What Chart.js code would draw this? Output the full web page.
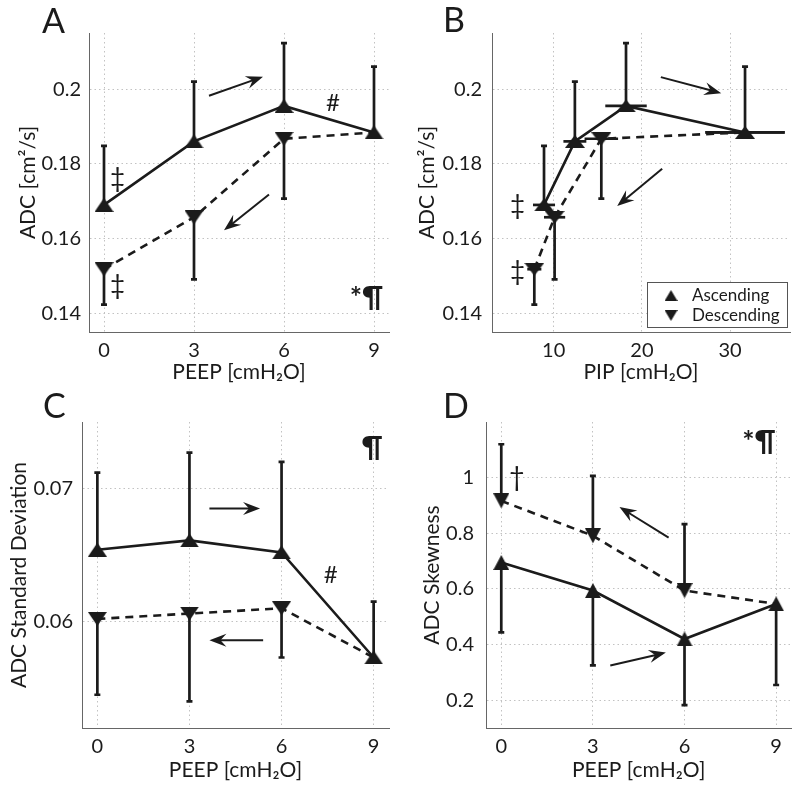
<!DOCTYPE html>
<html>
<head>
<style type="text/css">
  body { margin: 0; background: #fff; }
  #wrap { position: relative; width: 800px; height: 794px; overflow: hidden; }
  .panel { position: absolute; }
</style>
</head>
<body>
<div id="wrap">
  <div class="panel" style="left:0;top:0"><canvas id="chartA" width="400" height="390"></canvas></div>
  <div class="panel" style="left:400px;top:0"><canvas id="chartB" width="400" height="390"></canvas></div>
  <div class="panel" style="left:0;top:390px"><canvas id="chartC" width="400" height="404"></canvas></div>
  <div class="panel" style="left:400px;top:390px"><canvas id="chartD" width="400" height="404"></canvas></div>
</div>
<script src="https://cdn.jsdelivr.net/npm/chart.js@4/dist/chart.umd.min.js"></script>
<script>
var ink = '#1b1b1b';
var FONT = 'Lato, "Open Sans", sans-serif';

// ---- data ----
var peep = [0, 3, 6, 9];
var peepTicks = [0, 3, 6, 9];
var peepLabels = ['0', '3', '6', '9'];

// A: mean ADC
var adcAsc = [0.169, 0.186, 0.1955, 0.1884];
var adcAscSd = [0.0158, 0.016, 0.0168, 0.0176];
var adcDesc = [0.1518, 0.1657, 0.1867, 0.1884];
var adcDescSd = [0.0095, 0.0166, 0.016, null];
var adcTicks = [0.14, 0.16, 0.18, 0.2];
var adcLabels = ['0.14', '0.16', '0.18', '0.2'];

// B: PIP at each step
var pipAsc = [8.9, 12.4, 18.2, 31.7];
var pipAscSd = [1.25, 1.3, 2.35, 4.5];
var pipDesc = [7.8, 10.1, 15.4, 31.7];
var pipDescSd = [0.8, 1.2, 1.9, 4.5];
var pipTicks = [10, 20, 30];
var pipLabels = ['10', '20', '30'];

// C: ADC standard deviation
var sdAsc = [0.0654, 0.0661, 0.0652, 0.0573];
var sdAscSd = [0.0058, 0.0066, 0.0068, 0.0042];
var sdDesc = [0.0602, 0.0606, 0.0610, 0.0573];
var sdDescSd = [0.0057, 0.0066, 0.0037, null];
var sdTicks = [0.06, 0.07];
var sdLabels = ['0.06', '0.07'];

// D: ADC skewness
var skAsc = [0.695, 0.594, 0.42, 0.546];
var skAscSd = [0.251, 0.269, 0.238, 0.2915];
var skDesc = [0.9165, 0.791, 0.594, 0.546];
var skDescSd = [0.2035, 0.215, 0.239, null];
var skTicks = [0.2, 0.4, 0.6, 0.8, 1];
var skLabels = ['0.2', '0.4', '0.6', '0.8', '1'];

function tri(w, h, up) {
  var c = document.createElement('canvas');
  c.width = w; c.height = h;
  var g = c.getContext('2d');
  g.fillStyle = ink;
  g.beginPath();
  if (up) { g.moveTo(w / 2, 0); g.lineTo(w, h); g.lineTo(0, h); }
  else { g.moveTo(0, 0); g.lineTo(w, 0); g.lineTo(w / 2, h); }
  g.closePath();
  g.fill();
  return c;
}

function drawArrow(ctx, x1, y1, x2, y2) {
  var a = Math.atan2(y2 - y1, x2 - x1), L = 17, W = 6.5;
  var ux = Math.cos(a), uy = Math.sin(a);
  ctx.beginPath();
  ctx.moveTo(x1, y1);
  ctx.lineTo(x2 - ux * L * 0.6, y2 - uy * L * 0.6);
  ctx.stroke();
  ctx.beginPath();
  ctx.moveTo(x2, y2);
  ctx.lineTo(x2 - ux * L - uy * W, y2 - uy * L + ux * W);
  ctx.lineTo(x2 - ux * L * 0.65, y2 - uy * L * 0.65);
  ctx.lineTo(x2 - ux * L + uy * W, y2 - uy * L - ux * W);
  ctx.closePath();
  ctx.fill();
}

var decor = {
  id: 'decor',
  beforeDatasetsDraw: function(chart) {
    var o = chart.options.plugins.decor, ctx = chart.ctx;
    var xs = chart.scales.x, ys = chart.scales.y;
    ctx.save();
    ctx.strokeStyle = ink;
    ctx.lineWidth = 2.7;
    o.bars.forEach(function(b) {
      b.x.forEach(function(xv, i) {
        var px = xs.getPixelForValue(xv), py = ys.getPixelForValue(b.y[i]);
        if (b.sd[i] != null) {
          var pe = ys.getPixelForValue(b.y[i] + b.dir * b.sd[i]);
          ctx.beginPath();
          ctx.moveTo(px, py); ctx.lineTo(px, pe);
          ctx.moveTo(px - 3, pe); ctx.lineTo(px + 3, pe);
          ctx.stroke();
        }
        if (b.xsd && b.xsd[i] != null) {
          ctx.beginPath();
          ctx.moveTo(xs.getPixelForValue(xv - b.xsd[i]), py);
          ctx.lineTo(xs.getPixelForValue(xv + b.xsd[i]), py);
          ctx.stroke();
        }
      });
    });
    ctx.restore();
  },
  afterDatasetsDraw: function(chart) {
    var o = chart.options.plugins.decor, ctx = chart.ctx;
    var xs = chart.scales.x, ys = chart.scales.y;
    ctx.save();
    ctx.fillStyle = ink;
    ctx.strokeStyle = ink;
    ctx.lineWidth = 2;
    o.arrows.forEach(function(a) {
      drawArrow(ctx, xs.getPixelForValue(a[0]), ys.getPixelForValue(a[1]),
                xs.getPixelForValue(a[2]), ys.getPixelForValue(a[3]));
    });
    ctx.textAlign = 'center';
    ctx.textBaseline = 'middle';
    o.notes.forEach(function(n) {
      ctx.font = (n.bold ? 'bold ' : '') + n.size + 'px ' + FONT;
      ctx.fillText(n.text, xs.getPixelForValue(n.x), ys.getPixelForValue(n.y));
    });
    ctx.textAlign = 'left';
    ctx.textBaseline = 'alphabetic';
    ctx.font = '34px ' + FONT;
    ctx.fillText(o.letter, o.letterAt[0], o.letterAt[1]);
    if (o.legend) {
      var ca = chart.chartArea, bw = 140, bh = 45;
      var bx = Math.round(ca.right - 3 - bw), by = Math.round(ca.bottom - 5 - bh);
      ctx.fillStyle = '#fff';
      ctx.fillRect(bx, by, bw, bh);
      ctx.strokeStyle = '#555';
      ctx.lineWidth = 1;
      ctx.strokeRect(bx + 0.5, by + 0.5, bw, bh);
      var marks = [tri(13, 11, true), tri(13, 11, false)];
      ctx.font = '17px ' + FONT;
      ctx.textBaseline = 'middle';
      chart.data.datasets.forEach(function(ds, i) {
        var cy = by + 13.5 + i * 20;
        ctx.drawImage(marks[i], bx + 24 - 6.5, cy - 5.5);
        ctx.fillStyle = ink;
        ctx.fillText(ds.label, bx + 45, cy);
      });
    }
    ctx.restore();
  }
};

function makeChart(id, p) {
  var canvas = document.getElementById(id);
  var H = canvas.height;
  var up = tri(p.mark[0], p.mark[1], true), down = tri(p.mark[0], p.mark[1], false);
  function pts(xa, ya) { return xa.map(function(x, i) { return {x: x, y: ya[i]}; }); }
  return new Chart(canvas, {
    type: 'line',
    data: {
      datasets: [
        { label: 'Ascending', data: pts(p.xa, p.ya), borderColor: ink, borderWidth: 2.6,
          pointStyle: up, pointRadius: 6, tension: 0 },
        { label: 'Descending', data: pts(p.xd, p.yd), borderColor: ink, borderWidth: 2.6,
          borderDash: [8, 6], pointStyle: down, pointRadius: [6, 6, 6, 0], tension: 0 }
      ]
    },
    options: {
      responsive: false,
      animation: false,
      devicePixelRatio: 1,
      layout: { padding: { top: p.area.top, right: 400 - p.area.right, left: 0, bottom: 0 } },
      scales: {
        x: {
          type: 'linear', min: p.xmin, max: p.xmax,
          afterBuildTicks: function(s) { s.ticks = p.xt.map(function(v) { return {value: v}; }); },
          afterFit: function(s) { s.height = H - p.area.bottom; },
          grid: { color: '#c2c2c2', lineWidth: 1, drawTicks: false },
          border: { color: '#666', width: 1, dash: [1.5, 3] },
          ticks: { color: ink, padding: 7, font: { family: FONT, size: 20 },
                   callback: function(v, i) { return p.xl[i]; } },
          title: { display: true, text: p.xtitle, color: ink, font: { family: FONT, size: 21 },
                   padding: { top: 0, bottom: p.xtitlePad } }
        },
        y: {
          min: p.ymin, max: p.ymax,
          afterBuildTicks: function(s) { s.ticks = p.yt.map(function(v) { return {value: v}; }); },
          afterFit: function(s) { s.width = p.area.left; },
          grid: { color: '#c2c2c2', lineWidth: 1, drawTicks: false },
          border: { color: '#666', width: 1, dash: [1.5, 3] },
          ticks: { color: ink, padding: p.ytickPad, font: { family: FONT, size: 20 },
                   callback: function(v, i) { return p.yl[i]; } },
          title: { display: true, text: p.ytitle, color: ink, font: { family: FONT, size: 21 },
                   padding: { top: p.ytitlePad, bottom: 0 } }
        }
      },
      plugins: {
        legend: { display: false },
        tooltip: { enabled: false },
        decor: {
          letter: p.letter, letterAt: p.letterAt, legend: !!p.legend,
          bars: [
            { x: p.xa, y: p.ya, sd: p.sda, dir: p.dirA, xsd: p.xsda },
            { x: p.xd, y: p.yd, sd: p.sdd, dir: -p.dirA, xsd: p.xsdd }
          ],
          arrows: p.arrows, notes: p.notes
        }
      }
    },
    plugins: [decor]
  });
}

makeChart('chartA', {
  area: { left: 89, right: 389, top: 33, bottom: 332 }, mark: [19, 14],
  xa: peep, ya: adcAsc, sda: adcAscSd, xd: peep, yd: adcDesc, sdd: adcDescSd, dirA: 1,
  xmin: -0.5, xmax: 9.5, xt: peepTicks, xl: peepLabels,
  ymin: 0.135, ymax: 0.215, yt: adcTicks, yl: adcLabels,
  xtitle: 'PEEP [cmH₂O]', xtitlePad: 5, ytitle: 'ADC [cm²/s]', ytitlePad: 16, ytickPad: 8,
  letter: 'A', letterAt: [42, 33],
  arrows: [[3.5, 0.1982, 5.3, 0.2033], [5.5, 0.1718, 4.0, 0.1622]],
  notes: [
    { text: '‡', x: 0.45, y: 0.176, size: 26 },
    { text: '‡', x: 0.45, y: 0.1473, size: 26 },
    { text: '#', x: 7.63, y: 0.1963, size: 24 },
    { text: '*¶', x: 8.75, y: 0.1441, size: 29, bold: true }
  ]
});

makeChart('chartB', {
  area: { left: 92, right: 390, top: 33, bottom: 332 }, mark: [20, 13], legend: true,
  xa: pipAsc, ya: adcAsc, sda: adcAscSd, xsda: pipAscSd,
  xd: pipDesc, yd: adcDesc, sdd: adcDescSd, xsdd: pipDescSd, dirA: 1,
  xmin: 3, xmax: 36.8, xt: pipTicks, xl: pipLabels,
  ymin: 0.135, ymax: 0.215, yt: adcTicks, yl: adcLabels,
  xtitle: 'PIP [cmH₂O]', xtitlePad: 5, ytitle: 'ADC [cm²/s]', ytitlePad: 15, ytickPad: 10,
  letter: 'B', letterAt: [43, 32],
  arrows: [[22.15, 0.2032, 29.0, 0.1989], [22.3, 0.1787, 17.2, 0.1687]],
  notes: [
    { text: '‡', x: 5.9, y: 0.1687, size: 26 },
    { text: '‡', x: 5.9, y: 0.1511, size: 26 }
  ]
});

makeChart('chartC', {
  area: { left: 82, right: 389, top: 32, bottom: 338 }, mark: [19, 14],
  xa: peep, ya: sdAsc, sda: sdAscSd, xd: peep, yd: sdDesc, sdd: sdDescSd, dirA: 1,
  xmin: -0.5, xmax: 9.5, xt: peepTicks, xl: peepLabels,
  ymin: 0.052, ymax: 0.075, yt: sdTicks, yl: sdLabels,
  xtitle: 'PEEP [cmH₂O]', xtitlePad: 11, ytitle: 'ADC Standard Deviation', ytitlePad: 7, ytickPad: 9,
  letter: 'C', letterAt: [43, 28],
  arrows: [[3.65, 0.0685, 5.3, 0.0685], [5.4, 0.0586, 3.65, 0.0586]],
  notes: [
    { text: '#', x: 7.6, y: 0.0635, size: 24 },
    { text: '¶', x: 8.95, y: 0.0731, size: 29, bold: true }
  ]
});

makeChart('chartD', {
  area: { left: 86, right: 393, top: 32, bottom: 338 }, mark: [16, 15],
  xa: peep, ya: skAsc, sda: skAscSd, xd: peep, yd: skDesc, sdd: skDescSd, dirA: -1,
  xmin: -0.5, xmax: 9.5, xt: peepTicks, xl: peepLabels,
  ymin: 0.1, ymax: 1.2, yt: skTicks, yl: skLabels,
  xtitle: 'PEEP [cmH₂O]', xtitlePad: 11, ytitle: 'ADC Skewness', ytitlePad: 20, ytickPad: 12,
  letter: 'D', letterAt: [43, 28],
  arrows: [[5.48, 0.784, 3.87, 0.894], [3.57, 0.325, 5.39, 0.371]],
  notes: [
    { text: '†', x: 0.51, y: 1.0, size: 27 },
    { text: '*¶', x: 8.44, y: 1.13, size: 29, bold: true }
  ]
});
</script>
</body>
</html>
